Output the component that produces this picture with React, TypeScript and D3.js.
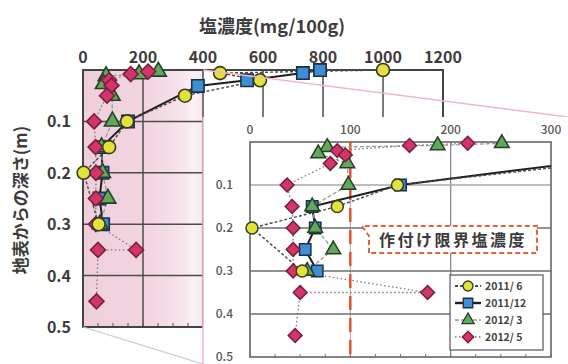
import React from 'react';
import * as d3 from 'd3';

// Salt concentration (mg/100g) profiles against depth below the surface (m).
// Each entry is [depth, salt].
const jun2011: [number, number][] = [
  [0, 1000], [0.006, 457], [0.02, 590], [0.05, 340], [0.1, 147],
  [0.15, 87], [0.2, 2], [0.3, 52],
];
const dec2011: [number, number][] = [
  [0, 790], [0.006, 733], [0.02, 547], [0.031, 383], [0.1, 150],
  [0.15, 62], [0.2, 65], [0.25, 55], [0.3, 67],
];
const mar2012: [number, number][] = [
  [0.003, 251], [0.008, 187], [0.012, 77], [0.027, 68], [0.05, 97],
  [0.1, 98], [0.15, 62], [0.2, 65], [0.25, 83], [0.3, 57],
];
const may2012: [number, number][] = [
  [0.003, 217], [0.008, 159], [0.02, 87], [0.03, 95], [0.05, 80],
  [0.1, 37], [0.15, 42], [0.2, 43], [0.25, 43], [0.3, 43],
  [0.35, 177], [0.35, 50], [0.45, 45],
];

const seriesLabels = ['2011/ 6', '2011/12', '2012/ 3', '2012/ 5'];
const mainSaltTicks = [0, 200, 400, 600, 800, 1000, 1200];
const mainDepthTicks = [0.1, 0.2, 0.3, 0.4, 0.5];
const insetSaltTicks = [0, 100, 200, 300];
const insetDepthTicks = [0.1, 0.2, 0.3, 0.4, 0.5];
const cropLimitSalt = 100;
const cropLimitLabel = '作付け限界塩濃度';

type Kind = 'circle' | 'square' | 'triangle' | 'diamond';
interface Style {
  kind: Kind; fill: string; stroke: string;
  line: string; lineWidth: number; dash: string;
}

const styles: Style[] = [
  { kind: 'circle', fill: '#e2e23c', stroke: '#3a3a22', line: '#4a4a4a', lineWidth: 1.4, dash: '3,2' },
  { kind: 'square', fill: '#3d8fd2', stroke: '#1b2e4a', line: '#1e1e1e', lineWidth: 2, dash: '' },
  { kind: 'triangle', fill: '#62a85a', stroke: '#253f25', line: '#9a9a9a', lineWidth: 1.3, dash: '4,2' },
  { kind: 'diamond', fill: '#d2356a', stroke: '#7a1f3c', line: '#7a7a7a', lineWidth: 1.3, dash: '1.5,2.5' },
];
const allSeries = [jun2011, dec2011, mar2012, may2012];
// drawing order so the yellow circles sit on top
const drawOrder = [1, 2, 3, 0];

function symbolPath(kind: Kind, r: number): string {
  if (kind === 'circle') return d3.symbol(d3.symbolCircle, Math.PI * r * r)() as string;
  if (kind === 'square') return d3.symbol(d3.symbolSquare, (2 * r * 0.95) ** 2)() as string;
  if (kind === 'triangle') return d3.symbol(d3.symbolTriangle, r * r * 2.6)() as string;
  const h = r * 1.15;
  return `M0,${-h}L${h},0L0,${h}L${-h},0Z`;
}

export default function App() {
  const xM = d3.scaleLinear().domain([0, 1200]).range([83, 443]);
  const yM = d3.scaleLinear().domain([0, 0.5]).range([70, 327]);
  const xI = d3.scaleLinear().domain([0, 300]).range([250, 551]);
  const yI = d3.scaleLinear().domain([0, 0.5]).range([142, 357]);

  const lineM = d3.line<[number, number]>().x(d => xM(d[1])).y(d => yM(d[0]));
  const lineI = d3.line<[number, number]>().x(d => xI(d[1])).y(d => yI(d[0]));

  const txt = '#3c3c3c';
  const font = "'Noto Sans CJK JP','Noto Sans',sans-serif";

  const zoomRight = xM(400);
  const inset = { x: zoomRight, y: 117, w: 568 - zoomRight, h: 364 - 117 };

  const minorMain = d3.range(0, 1201, 50);
  const minorInset = d3.range(0, 301, 25);

  return (
    <svg width={568} height={364} style={{ position: 'absolute', left: 0, top: 0, background: '#fff' }} fontFamily={font}>
      <defs>
        <linearGradient id="pinkFade" x1="0" x2="1" y1="0" y2="0">
          <stop offset="0" stopColor="#efcfdc" />
          <stop offset="0.55" stopColor="#f2d5e1" />
          <stop offset="0.8" stopColor="#f6e2ea" />
          <stop offset="0.92" stopColor="#fbf1f5" />
          <stop offset="1" stopColor="#f7e6ed" />
        </linearGradient>
        <clipPath id="mainClip">
          <rect x={xM(0) - 8} y={yM(0) - 8} width={xM(1200) - xM(0) + 16} height={yM(0.5) - yM(0) + 16} />
        </clipPath>
        <clipPath id="insetClip">
          <rect x={xI(0) - 8} y={yI(0) - 4} width={xI(300) - xI(0) + 8} height={yI(0.5) - yI(0) + 8} />
        </clipPath>
      </defs>

      {/* main panel */}
      <rect x={xM(0)} y={yM(0)} width={zoomRight - xM(0)} height={yM(0.5) - yM(0)} fill="url(#pinkFade)" />
      {mainSaltTicks.slice(1, -1).map(t => (
        <line key={'mv' + t} x1={xM(t)} x2={xM(t)} y1={yM(0)} y2={yM(0.5)} stroke="#4c4c4c" strokeWidth={1.5} />
      ))}
      {mainDepthTicks.slice(0, -1).map(t => (
        <line key={'mh' + t} x1={xM(0)} x2={xM(1200)} y1={yM(t)} y2={yM(t)} stroke="#4c4c4c" strokeWidth={1.5} />
      ))}
      {minorMain.map(t => (
        <line key={'mm' + t} x1={xM(t)} x2={xM(t)} y1={yM(0.5)} y2={yM(0.5) - 4} stroke="#555" strokeWidth={1} />
      ))}
      <rect x={xM(0)} y={yM(0)} width={xM(1200) - xM(0)} height={yM(0.5) - yM(0)} fill="none" stroke="#444" strokeWidth={2} />

      <g clipPath="url(#mainClip)">
        {drawOrder.map(i => (
          <path key={'ml' + i} d={lineM(allSeries[i]) as string} fill="none" stroke={styles[i].line}
            strokeWidth={styles[i].lineWidth} strokeDasharray={styles[i].dash || undefined} />
        ))}
      </g>
      {drawOrder.map(i => (
        <g key={'mp' + i}>
          {allSeries[i].map((p, j) => (
            <path key={j} d={symbolPath(styles[i].kind, 6.5)} transform={`translate(${xM(p[1])},${yM(p[0])})`}
              fill={styles[i].fill} stroke={styles[i].stroke} strokeWidth={1.6} />
          ))}
        </g>
      ))}

      {mainSaltTicks.map(t => (
        <text key={'mx' + t} x={xM(t)} y={63} textAnchor="middle" fontSize={16} fontWeight={700} fill={txt}>{t}</text>
      ))}
      {mainDepthTicks.map(t => (
        <text key={'my' + t} x={71} y={yM(t) + 6} textAnchor="end" fontSize={16} fontWeight={700} fill={txt}>{t.toFixed(1)}</text>
      ))}
      <text x={272} y={33} textAnchor="middle" fontSize={18} fontWeight={700} fill={txt}>塩濃度(mg/100g)</text>
      <text transform="translate(27,200) rotate(-90)" textAnchor="middle" fontSize={17} fontWeight={700} fill={txt}>地表からの深さ(m)</text>

      {/* zoom connectors */}
      <line x1={zoomRight} y1={yM(0)} x2={568} y2={inset.y} stroke="#f0b6c8" strokeWidth={1.5} />
      <line x1={xM(0)} y1={yM(0.5)} x2={zoomRight} y2={364} stroke="#c9c9c9" strokeWidth={1.2} />

      {/* inset panel */}
      <rect x={inset.x} y={inset.y} width={inset.w} height={inset.h} fill="#fff" />
      <line x1={inset.x} x2={inset.x} y1={inset.y} y2={364} stroke="#efb4c6" strokeWidth={1.5} />

      {insetSaltTicks.slice(1, -1).map(t => (
        <line key={'iv' + t} x1={xI(t)} x2={xI(t)} y1={yI(0)} y2={yI(0.5)} stroke={t === 100 ? '#b8b8b8' : '#8a8a8a'} strokeWidth={1.3} />
      ))}
      {insetDepthTicks.slice(0, -1).map(t => (
        <line key={'ih' + t} x1={xI(0)} x2={xI(300)} y1={yI(t)} y2={yI(t)} stroke={t === 0.1 ? '#a8a8a8' : '#6e6e6e'} strokeWidth={1.5} />
      ))}
      {minorInset.map(t => (
        <line key={'im' + t} x1={xI(t)} x2={xI(t)} y1={yI(0.5)} y2={yI(0.5) - 3} stroke="#777" strokeWidth={1} />
      ))}
      <rect x={xI(0)} y={yI(0)} width={xI(300) - xI(0)} height={yI(0.5) - yI(0)} fill="none" stroke="#666" strokeWidth={1.6} />

      <line x1={xI(cropLimitSalt)} x2={xI(cropLimitSalt)} y1={yI(0)} y2={yI(0.5)} stroke="#e2502a" strokeWidth={2.4} strokeDasharray="14,8" />

      <g clipPath="url(#insetClip)">
        {drawOrder.map(i => (
          <path key={'il' + i} d={lineI(allSeries[i]) as string} fill="none" stroke={styles[i].line}
            strokeWidth={styles[i].lineWidth} strokeDasharray={styles[i].dash || undefined} />
        ))}
      </g>
      {drawOrder.map(i => (
        <g key={'ip' + i}>
          {allSeries[i].filter(p => p[1] <= 300).map((p, j) => (
            <path key={j} d={symbolPath(styles[i].kind, 6)} transform={`translate(${xI(p[1])},${yI(p[0])})`}
              fill={styles[i].fill} stroke={styles[i].stroke} strokeWidth={1.5} />
          ))}
        </g>
      ))}

      {insetSaltTicks.map(t => (
        <text key={'ix' + t} x={xI(t)} y={134} textAnchor="middle" fontSize={12} fontWeight={500} fill="#555">{t}</text>
      ))}
      {insetDepthTicks.map(t => (
        <text key={'iy' + t} x={233} y={yI(t) + 4} textAnchor="end" fontSize={12} fontWeight={500} fill="#555">{t.toFixed(1)}</text>
      ))}

      {/* crop limit callout */}
      <path d={`M369,253L369,236L362,226L537,226L537,253Z`} fill="#fff" stroke="#e2643a" strokeWidth={2} strokeDasharray="5,3" />
      <text x={453} y={246} textAnchor="middle" fontSize={16} fontWeight={700} fill="#3a3a3a" letterSpacing={2.5}>{cropLimitLabel}</text>

      {/* legend */}
      <rect x={450} y={275} width={93} height={75} fill="#fff" stroke="#555" strokeWidth={1.2} />
      {seriesLabels.map((label, i) => {
        const y = 286 + i * 17;
        return (
          <g key={'lg' + i}>
            <line x1={455} x2={481} y1={y} y2={y} stroke={styles[i].line} strokeWidth={styles[i].lineWidth + 0.4}
              strokeDasharray={styles[i].dash || undefined} />
            <path d={symbolPath(styles[i].kind, 5)} transform={`translate(468,${y})`} fill={styles[i].fill}
              stroke={styles[i].stroke} strokeWidth={1.3} />
            <text x={485} y={y + 4} fontSize={10.5} fontWeight={700} fill="#444" style={{ whiteSpace: 'pre' }}>{label}</text>
          </g>
        );
      })}
    </svg>
  );
}
